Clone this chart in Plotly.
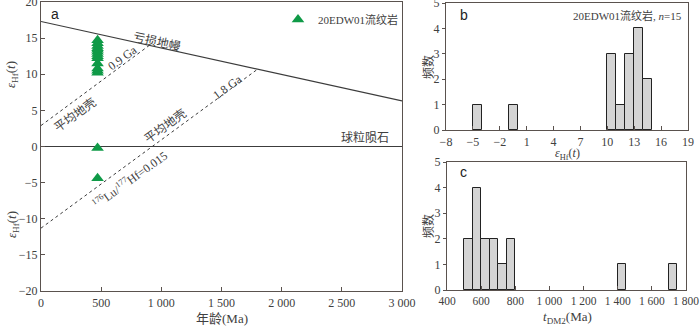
import plotly.graph_objects as go

# ---------------- data ----------------
# panel a: reference evolution lines (age Ma, epsilon Hf)
dm_age = [0, 3000]
dm_eps = [17.3, 6.3]
chur_age = [0, 3000]
chur_eps = [0, 0]
crust09_age = [0, 900]
crust09_eps = [2.9, 14.0]
crust18_age = [0, 1800]
crust18_eps = [-11.3, 10.7]

# 20EDW01 rhyolite zircons
sample_age = [470, 470, 470, 470, 470, 470, 470, 470, 470, 470, 470, 470, 470, 470, 470]
sample_eps = [10.2, 10.5, 10.8, 11.5, 12.2, 12.5, 12.8, 13.1, 13.4, 13.6, 13.9, 14.3, 14.7, -0.2, -4.4]

# panel b: eHf(t) histogram
b_bin_left = [-5, -1, 10, 11, 12, 13, 14]
b_counts = [1, 1, 3, 1, 3, 4, 2]
b_bin_width = 1

# panel c: tDM2 histogram
c_bin_left = [500, 550, 600, 650, 700, 750, 1400, 1700]
c_counts = [2, 4, 2, 2, 1, 2, 1, 1]
c_bin_width = 50

a_xticks = [0, 500, 1000, 1500, 2000, 2500, 3000]
a_xticktext = ["0", "500", "1 000", "1 500", "2 000", "2 500", "3 000"]
a_yticks = [-20, -15, -10, -5, 0, 5, 10, 15, 20]
a_yticktext = ["\u221220", "\u221215", "\u221210", "\u22125", "0", "5", "10", "15", "20"]
b_xticks = [-8, -5, -2, 1, 4, 7, 10, 13, 16, 19]
b_xticktext = ["\u22128", "\u22125", "\u22122", "1", "4", "7", "10", "13", "16", "19"]
c_xticks = [400, 600, 800, 1000, 1200, 1400, 1600, 1800]
c_xticktext = ["400", "600", "800", "1 000", "1 200", "1 400", "1 600", "1 800"]
hist_yticks = [0, 1, 2, 3, 4, 5]

# ---------------- style ----------------
W, H = 700, 327
FONT = "Liberation Serif, Times New Roman, Noto Sans CJK SC, serif"
FRAME = "#5a524e"
TXT = "#404040"
LINE = "#3c3c3c"
GREEN = "#0f9a47"

def px(x):
    return x / W

def py(y):
    return 1 - y / H

fig = go.Figure()

# panel a lines
fig.add_trace(go.Scatter(x=dm_age, y=dm_eps, mode="lines", line=dict(color=LINE, width=1.2),
                         showlegend=False, xaxis="x", yaxis="y", hoverinfo="skip"))
fig.add_trace(go.Scatter(x=chur_age, y=chur_eps, mode="lines", line=dict(color=LINE, width=1.2),
                         showlegend=False, xaxis="x", yaxis="y", hoverinfo="skip"))
fig.add_trace(go.Scatter(x=crust09_age, y=crust09_eps, mode="lines", line=dict(color=LINE, width=1, dash="dot"),
                         showlegend=False, xaxis="x", yaxis="y", hoverinfo="skip"))
fig.add_trace(go.Scatter(x=crust18_age, y=crust18_eps, mode="lines", line=dict(color=LINE, width=1, dash="dot"),
                         showlegend=False, xaxis="x", yaxis="y", hoverinfo="skip"))
fig.add_trace(go.Scatter(x=sample_age, y=sample_eps, mode="markers",
                         marker=dict(symbol="triangle-up", size=11, color=GREEN, line=dict(width=0)),
                         name="20EDW01流纹岩", showlegend=True, xaxis="x", yaxis="y"))

# panel b bars
fig.add_trace(go.Bar(x=b_bin_left, y=b_counts, width=b_bin_width, offset=0,
                     marker=dict(color="#d4d4d4", line=dict(color="#222222", width=1)),
                     showlegend=False, xaxis="x2", yaxis="y2"))
# panel c bars
fig.add_trace(go.Bar(x=c_bin_left, y=c_counts, width=c_bin_width, offset=0,
                     marker=dict(color="#d4d4d4", line=dict(color="#222222", width=1)),
                     showlegend=False, xaxis="x3", yaxis="y3"))

axis_common = dict(showline=True, mirror=True, linecolor=FRAME, linewidth=1.2, showgrid=False,
                   zeroline=False, tickfont=dict(family=FONT, size=12, color=TXT),
                   ticks="inside", ticklen=4, tickcolor=FRAME, tickwidth=1, automargin=False,
                   ticklabeloverflow="allow")

fig.update_layout(
    width=W, height=H, margin=dict(l=0, r=0, t=0, b=0, autoexpand=False),
    paper_bgcolor="white", plot_bgcolor="white",
    font=dict(family=FONT, color=TXT),
    bargap=0,
    xaxis=dict(domain=[px(41), px(402)], range=[0, 3000], tickvals=a_xticks, ticktext=a_xticktext,
               anchor="y", **axis_common),
    yaxis=dict(domain=[py(291), py(2)], range=[-20, 20], tickvals=a_yticks, ticktext=a_yticktext,
               anchor="x", **axis_common),
    xaxis2=dict(domain=[px(446), px(688)], range=[-8, 19], tickvals=b_xticks, ticktext=b_xticktext,
                anchor="y2", **axis_common),
    yaxis2=dict(domain=[py(130), py(3)], range=[0, 5], tickvals=hist_yticks,
                anchor="x2", **{**axis_common, "ticks": "outside", "ticklen": 3}),
    xaxis3=dict(domain=[px(447), px(686)], range=[400, 1800], tickvals=c_xticks, ticktext=c_xticktext,
                anchor="y3", **{**axis_common, "tickfont": dict(family=FONT, size=11.5, color=TXT)}),
    yaxis3=dict(domain=[py(290), py(162)], range=[0, 5], tickvals=hist_yticks,
                anchor="x3", **{**axis_common, "ticks": "outside", "ticklen": 3}),
    legend=dict(x=px(404), xanchor="right", y=py(5), yanchor="top", bgcolor="rgba(0,0,0,0)",
                font=dict(family=FONT, size=11, color=TXT), itemwidth=30, tracegroupgap=0),
)

ann = []
def A(text, x, y, xref="x", yref="y", size=12, angle=0, xanchor="center", yanchor="middle", font=FONT, color=TXT):
    ann.append(dict(text=text, x=x, y=y, xref=xref, yref=yref, showarrow=False, textangle=angle,
                    xanchor=xanchor, yanchor=yanchor, font=dict(family=font, size=size, color=color)))

# panel a text
A("a", 117, 18.3, size=14, font="Liberation Sans, Arial, sans-serif", color="#222")
A("亏损地幔", 967, 14.6, angle=12.4)
A("0.9 Ga", 675, 12.3, angle=-36)
A("平均地壳", 283, 4.4, angle=-36)
A("1.8 Ga", 1550, 8.3, angle=-36)
A("平均地壳", 1033, 2.9, angle=-36)
A("<sup>176</sup>Lu/<sup>177</sup>Hf=0.015", 742, -4.6, angle=-36)
A("球粒陨石", 2908, 1.2, xanchor="right")

# axis titles panel a
A("<i>ε</i><sub>Hf</sub>(<i>t</i>)", px(12), py(75), xref="paper", yref="paper", size=13, angle=-90)
A("<i>ε</i><sub>Hf</sub>(<i>t</i>)", px(12), py(225), xref="paper", yref="paper", size=13, angle=-90)
A("年龄(Ma)", px(222), py(318), xref="paper", yref="paper", size=13)

# panel b/c text
A("b", px(464), py(15), xref="paper", yref="paper", size=14, font="Liberation Sans, Arial, sans-serif", color="#222")
A("c", px(463), py(172), xref="paper", yref="paper", size=14, font="Liberation Sans, Arial, sans-serif", color="#222")
A("20EDW01流纹岩, <i>n</i>=15", px(684), py(16), xref="paper", yref="paper", size=11, xanchor="right")
A("频数", px(428), py(67), xref="paper", yref="paper", size=12, angle=-90)
A("频数", px(428), py(226), xref="paper", yref="paper", size=12, angle=-90)
A("<i>ε</i><sub>Hf</sub>(<i>t</i>)", px(567), py(154), xref="paper", yref="paper", size=12)
A("<i>t</i><sub>DM2</sub>(Ma)", px(567), py(317), xref="paper", yref="paper", size=13)

fig.update_layout(annotations=ann)
fig.write_html("out.html", config={"displayModeBar": False},
               post_script="document.body.style.margin='0';document.body.style.overflow='hidden';")
